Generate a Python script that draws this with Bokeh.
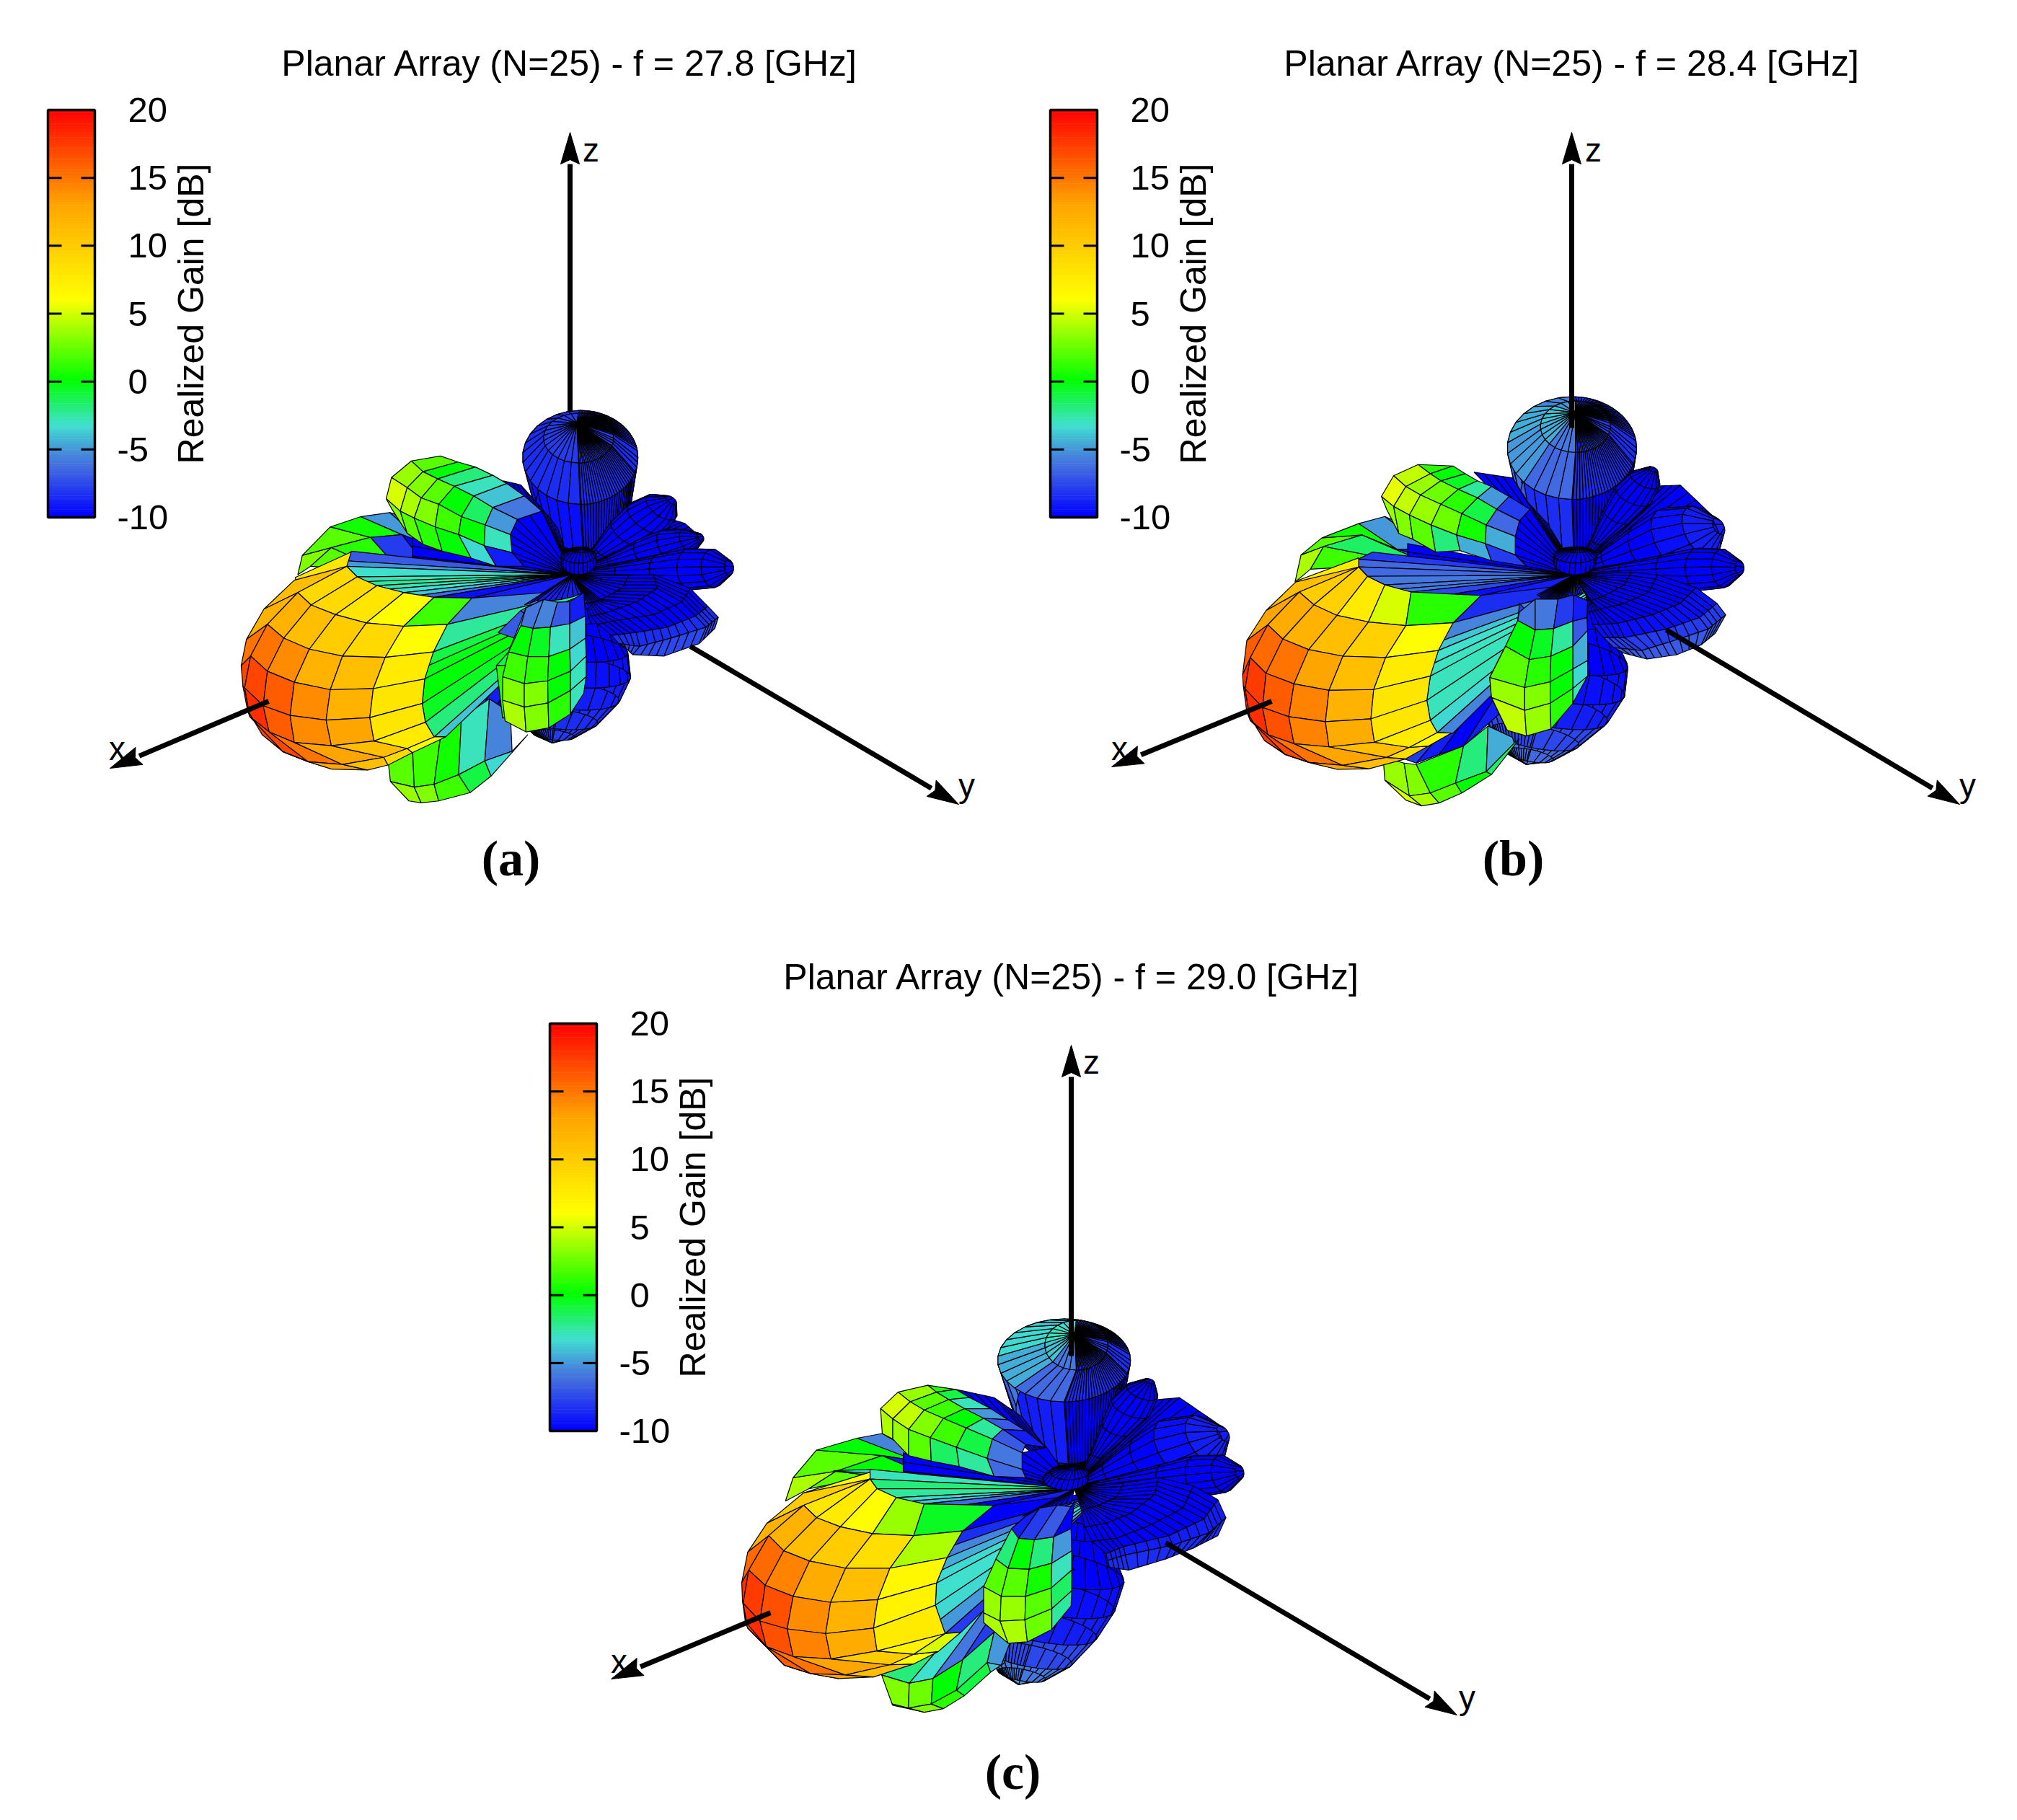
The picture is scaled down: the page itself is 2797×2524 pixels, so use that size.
import math
from bokeh.embed import file_html
from bokeh.resources import INLINE
from bokeh.plotting import figure
from bokeh.models import ColumnDataSource, LinearColorMapper
from bokeh.transform import transform
from bokeh.core.properties import value

# ------------------------- chart values -------------------------
titles = ["Planar Array (N=25) - f = 27.8 [GHz]", "Planar Array (N=25) - f = 28.4 [GHz]", "Planar Array (N=25) - f = 29.0 [GHz]"]
captions = ["(a)", "(b)", "(c)"]
gain_ticks = [20, 15, 10, 5, 0, -5, -10]
gain_label = "Realized Gain [dB]"
cmap_db = [-10, -6.5, -5.5, -3.3, 0, 6, 13, 20]
cmap_rgb = [(0, 0, 255), (65, 105, 225), (70, 135, 220), (64, 224, 208), (0, 255, 0), (255, 255, 0), (255, 165, 0), (255, 0, 0)]
dense_phi = list(range(0, 20, 6)) + list(range(20, 90, 3)) + list(range(90, 270, 12)) + list(range(270, 350, 3)) + [352, 360]
low_phi = list(range(0, 90, 4)) + list(range(90, 361, 15))
coarse_phi = list(range(0, 361, 15))
lobe_phi = list(range(0, 361, 24))

# view frames of the three panels: left, top, x scale, y scale
frame_a = (300, 540, 2.063, 2.613)
frame_b = (1680, 520, 2.063, 2.529)
frame_c = (1000, 1800, 2.063, 2.613)

# ---- panel a: surface
a_z = [(1015,670,0,0),(1048,420,135,165),(1040,245,165,170),(1035,175,100,90),(1030,120,0,0)]
a_z_db = [-10,-9.5,-8.5,-8]
a_rfan = [(1150,480),(1205,410),(1290,465),(1340,485),(1385,535),(1355,580),(1440,600),(1465,645),(1420,710),(1300,690)]
a_rfan_db = [-10,-10,-10,-10,-10,-10,-10,-10,-10]
a_r1 = ((1020,660),(1300,400),[0,.3,.55,.75,.9,1],[0,30,60,72,58,20],.5,[-10,-10,-10,-10,-10])
a_r2 = ((1020,660),(1385,535),[0,.3,.55,.75,.9,1],[0,22,50,62,45,15],.5,[-10,-10,-10,-10,-10])
a_r3 = ((1020,665),(1465,645),[0,.3,.55,.75,.9,1],[0,30,55,75,70,28],.5,[-10,-10,-10,-10,-10])
a_low = ((1040,700),(960,1280),[0,.2,.4,.55,.7,.85,.95,1],[0,100,170,190,170,120,60,0],.3,[-10,-10,-9.5,-9,-8.5,-8,-8])
a_r4 = [[(1015,675),(1015,675),(1015,675),(1015,675),(1015,675)],
        [(1180,672),(1160,720),(1100,760),(1080,770),(1060,775)],
        [(1250,670),(1260,720),(1200,770),(1110,810),(1070,820)],
        [(1355,720),(1330,770),(1250,815),(1150,835),(1090,850)],
        [(1405,785),(1370,820),(1290,860),(1200,880),(1130,890)],
        [(1435,825),(1400,860),(1300,900),(1210,930),(1150,920)],
        [(1425,865),(1380,920),(1280,965),(1190,960),(1165,930)]]
a_r4_db = [-10,-10,-10,-10,-8.5,-7.5]
a_back = [[(232,670),(245,600),(325,497),(412,460),(495,445),(560,470)],
          [(268,640),(328,572),(440,535),(530,525),(600,560),(650,590)],
          [(400,650),(450,640),(500,620),(600,640),(650,650),(700,655)]]
a_back_db = [[3,2,0.5,-5,-6],[2,1,-8,-10,-10]]
a_gap = [(560,530),(560,640)]
a_gap_db = [-10]
a_petal = [(820,330),(870,345),(930,430),(975,500),(1000,600)]
a_petal_db = [-10,-10,-10,-10]
a_up = [[(640,240),(690,262),(740,280),(790,310),(830,340),(880,385),(930,440)],
        [(557,258),(590,297),(632,323),(680,350),(735,385),(790,427),(860,470)],
        [(500,318),(545,355),(585,392),(635,415),(700,460),(768,490),(840,525)],
        [(485,395),(525,440),(565,465),(625,497),(692,525),(765,565),(845,590)],
        [(500,430),(545,520),(590,560),(645,585),(728,610),(800,640),(880,640)]]
a_up_db = [[2,0,-2,-3,-4,-6,-8],[3.5,3,2,0,-1.5,-5,-7],[5,4,3,1.5,0,-3,-7.5],[3,2,1,0,-3.5,-9,-10]]
a_up_fan = [(930,440),(860,470),(840,525),(845,590),(880,640)]
a_up_fan_db = [-10,-10,-10,-10]
a_lowg = [[(490,1340),(560,1290),(640,1260),(700,1190),(780,1120),(840,1170)],
          [(497,1420),(565,1440),(622,1430),(692,1395),(767,1345),(845,1310)],
          [(550,1490),(585,1497),(635,1490),(725,1460),(785,1400),(890,1250)]]
a_lowg_db = [[2,1.5,0.5,-3,-5.5],[3.5,3,1.5,-1,-3.5]]
a_lowg_fan = [(600,1290),(650,1265),(720,1220),(790,1170),(840,1200)]
a_lowg_fan_db = [-6,-7,-9,-10]
a_wedge = [(385,585),(370,620),(372,640),(402,678),(430,695),(458,710),(495,722),(535,735),(580,745),(622,752),(730,755),(880,790)]
a_wedge_db = [-7,-5,-3.3,-2.8,-2.5,-2.8,-3.2,-4,-6.5,-9.5,-9]
a_main = [[(222,690),(372,640),(402,678),(458,710),(535,735),(622,752),(730,755)],
          [(135,795),(232,735),(270,780),(340,815),(428,845),(535,857),(660,850)],
          [(85,905),(145,850),(192,900),(265,940),(360,965),(482,970),(620,950)],
          [(70,1000),(97,965),(145,1020),(222,1060),(325,1087),(448,1083),(595,1048)],
          [(75,1075),(80,1080),(133,1145),(210,1180),(313,1197),(438,1188),(588,1137)],
          [(88,1160),(95,1185),(150,1240),(222,1278),(328,1290),(450,1273),(597,1205)],
          [(130,1250),(190,1312),(262,1348),(360,1358),(478,1332),(545,1300),(622,1258)],
          [(190,1312),(262,1348),(330,1375),(432,1378),(490,1360),(560,1315),(655,1258)]]
a_main_db = [[11,9,9,8,6,1.5],[12,12,11,10,9,6],[15,15,14,12,11,7.5],[17,17,16,14,12,8],
             [18,18,16,14,13,8],[17,17,15,13,11,7.5],[15,15,13,11,9,6.5]]
a_strip = [[(225,680),(385,588)],[(232,735),(372,640)]]
a_strip_db = [[8]]
a_fan = [(730,755),(660,850),(620,950),(605,1000),(595,1048),(588,1137),(597,1205),(622,1258),(655,1258)]
a_fan_db = [-5.5,-2.5,-1,-0.3,0,-0.5,-2,-4]
a_fan_apex = (1100,720)
a_front = [[(885,790),(935,760),(975,770),(1010,768),(1050,735)],
           [(870,855),(905,865),(955,860),(1010,848),(1055,820)],
           [(835,950),(890,967),(950,967),(1010,940),(1055,900)],
           [(818,1040),(880,1065),(947,1055),(1012,1020),(1057,965)],
           [(818,1125),(880,1150),(948,1135),(1012,1090),(1057,1040)],
           [(825,1200),(885,1240),(950,1225),(1012,1175),(1050,1100)]]
a_front_db = [[-6,-5.5,-7,-9],[0,-0.5,-3,-4],[1.5,1,0,-3.5],[3,3,0,-3],[4,3,1,-3]]
a_flank = [(805,880),(870,800),(885,790),(835,950),(800,1000),(818,1190)]
a_flank_db = [-7,-6,-3,-1,1]
a_dome = [(1015,670,0,0),(1035,625,50,45),(1035,600,50,28),(1040,580,28,10),(1045,572,0,0)]
a_dome_db = [-10,-10,-10,-10]
a_cavity = [(880,780),(915,765),(950,765),(985,760),(1020,750),(1050,735)]
a_cavity_db = [-9,-9,-9,-9,-9]

# ---- panel b
b_z = [(1035,700,0,0),(1035,440,155,190),(1030,255,185,180),(1040,180,100,90),(1040,130,0,0)]
b_z_db = [-10,-8.5,-6.5,-6]
b_z_sec = [-2,-2,0,1.5,2,1,-2,-2]
b_rfan = [(1150,500),(1215,400),(1250,390),(1340,385),(1430,490),(1458,545),(1420,610),(1460,610),(1510,675),(1480,730),(1300,700)]
b_rfan_db = [-10,-10,-10,-10,-10,-10,-10,-10,-10,-10]
b_r1 = ((1035,690),(1262,330),[0,.3,.55,.75,.9,1],[0,20,45,58,48,15],.5,[-10,-10,-10,-10,-10])
b_r2 = ((1035,690),(1450,530),[0,.25,.5,.7,.88,1],[0,45,90,118,95,30],.5,[-10,-10,-10,-9.5,-9])
b_r3 = ((1035,695),(1510,675),[0,.3,.55,.75,.9,1],[0,30,55,75,68,25],.5,[-10,-10,-10,-10,-10])
b_low = ((1060,720),(900,1365),[0,.2,.4,.55,.7,.85,.95,1],[0,110,200,215,190,130,70,0],.3,[-10,-10,-9.5,-9,-7.5,-6.5,-6])
b_r4 = [[(1035,700),(1035,700),(1035,700),(1035,700),(1035,700)],
        [(1200,690),(1180,735),(1120,775),(1085,790),(1070,770)],
        [(1275,700),(1250,760),(1180,800),(1110,820),(1080,830)],
        [(1385,745),(1340,800),(1260,840),(1160,870),(1090,875)],
        [(1445,800),(1395,850),(1300,890),(1180,920),(1120,920)],
        [(1470,840),(1420,890),(1310,935),(1230,965),(1150,955)],
        [(1440,905),(1400,945),(1330,980),(1245,995),(1180,975)]]
b_r4_db = [-10,-10,-10,-9.5,-8,-7]
b_back = [[(238,725),(255,630),(315,570),(420,520),(495,495),(540,520)],
          [(282,680),(320,600),(430,560),(530,610),(620,610),(680,620)],
          [(420,670),(530,650),(600,650),(660,650),(700,660),(740,670)]]
b_back_db = [[4,2,0.5,-5,-6.5],[1.5,-1.5,-7,-9,-10]]
b_gap = [(560,590),(560,680)]
b_gap_db = [-10]
b_petal = [(750,340),(860,360),(900,440),(960,520),(1010,620)]
b_petal_db = [-10,-10,-10,-10]
b_up = [[(590,313),(690,318),(725,345),(760,370),(800,390),(850,425),(910,470)],
        [(590,313),(625,345),(655,370),(705,400),(760,430),(815,470),(880,510)],
        [(520,352),(555,390),(597,420),(655,452),(715,485),(785,525),(868,565)],
        [(485,425),(520,460),(565,490),(627,525),(700,560),(782,590),(868,630)],
        [(500,470),(535,555),(575,575),(640,620),(710,615),(800,650),(900,670)]]
b_up_db = [[1,0,-0.5,-2.5,-5,-8,-10],[4.5,3.5,2.5,1,-1,-6.5,-9],[5.5,4.5,3.5,2.5,0.5,-4.5,-8],[3.5,3,2,-2,-4.5,-8,-10]]
b_up_fan = [(910,470),(880,510),(868,565),(868,630),(900,670)]
b_up_fan_db = [-10,-10,-10,-10]
b_lowg = [[(490,1340),(550,1360),(585,1365),(720,1300),(790,1230),(860,1270)],
          [(495,1420),(565,1475),(625,1465),(697,1430),(785,1390),(865,1290)],
          [(555,1490),(600,1510),(650,1500),(715,1465),(800,1400),(880,1275)]]
b_lowg_db = [[3.5,3,1,-2,-4.5],[5,4,2,0,-1.5]]
b_lowg_fan = [(550,1345),(585,1360),(650,1330),(720,1300),(820,1190)]
b_lowg_fan_db = [-8,-9,-10,-9]
b_wedge = [(460,620),(418,645),(420,672),(445,705),(495,735),(530,750),(570,760),(665,772),(770,772),(900,800)]
b_wedge_db = [-8,-6.5,-6.5,-6,-6,-6,-7.5,-9.5,-9]
b_main = [[(240,725),(420,672),(420,672),(445,705),(495,735),(570,760),(770,772)],
          [(155,825),(250,760),(292,805),(358,842),(448,865),(555,878),(690,868)],
          [(100,930),(160,875),(203,925),(277,962),(375,985),(497,990),(648,965)],
          [(88,1050),(110,990),(155,1045),(235,1082),(335,1105),(463,1102),(625,1055)],
          [(90,1090),(95,1100),(145,1165),(220,1197),(325,1215),(455,1205),(615,1140)],
          [(100,1180),(110,1210),(160,1260),(235,1292),(335,1303),(465,1287),(625,1210)],
          [(150,1280),(210,1330),(278,1358),(375,1368),(500,1340),(565,1305),(645,1253)],
          [(210,1330),(278,1358),(360,1382),(450,1380),(555,1345),(620,1300),(685,1255)]]
b_main_db = [[11,10,9.5,7.5,5,1],[13,12.5,12,11,9.5,6],[16,15.5,15,13,11,7.5],[18,17.5,16,14.5,12,8],
             [18.5,18,16.5,14.5,12.5,8],[17.5,17,15,13,11,7.5],[15,15,13,11,8.5,6.5]]
b_strip = [[(240,722),(420,640)],[(250,760),(420,672)]]
b_strip_db = [[7.5]]
b_fan = [(770,772),(690,868),(660,930),(648,965),(635,1010),(625,1055),(615,1140),(625,1210),(645,1253),(690,1255)]
b_fan_db = [-8.5,-5.5,-4,-3.3,-3.1,-3,-3,-3.5,-5.5]
b_fan_apex = (1130,720)
b_front = [[(880,830),(925,785),(990,785),(1035,770),(1075,790)],
           [(875,860),(925,893),(978,888),(1033,862),(1073,850)],
           [(840,950),(908,997),(970,985),(1033,950),(1075,895)],
           [(795,1060),(895,1095),(968,1075),(1033,1030),(1075,1000)],
           [(800,1130),(895,1175),(968,1150),(1033,1098),(1075,1055)],
           [(845,1245),(900,1265),(970,1240),(1033,1150),(1050,1110)]]
b_front_db = [[-6,-6,-8,-9],[0,-0.5,-2.5,-7],[2,1,0,-4.5],[3.5,3,0,-3.5],[4.5,3.5,1,-3]]
b_flank = [(880,800),(875,860),(840,950),(795,1060),(800,1130),(845,1245)]
b_flank_db = [-8,-3,0,2,4]
b_dome = [(1035,700,0,0),(1038,655,60,45),(1040,630,62,28),(1045,612,32,10),(1050,603,0,0)]
b_dome_db = [-10,-10,-10,-10]
b_cavity = [(930,770),(950,785),(975,790),(1000,790),(1030,775),(1060,765)]
b_cavity_db = [-9,-9,-9,-9,-9]

# ---- panel c
c_z = [(1010,690,0,0),(992,410,150,190),(980,225,190,150),(1015,170,90,90),(1010,130,0,0)]
c_z_db = [-10,-8,-5.5,-5]
c_z_sec = [-3,-3,-1,1,2,1.5,-2,-3]
c_rfan = [(1130,500),(1175,420),(1225,370),(1310,360),(1420,455),(1438,495),(1400,565),(1460,590),(1482,630),(1445,700),(1300,690)]
c_rfan_db = [-10,-10,-10,-10,-10,-10,-10,-10,-10,-10]
c_r1 = ((1010,680),(1225,300),[0,.3,.55,.75,.9,1],[0,20,45,62,50,15],.5,[-10,-10,-10,-10,-10])
c_r2 = ((1010,680),(1435,490),[0,.25,.5,.7,.88,1],[0,45,90,118,95,30],.5,[-10,-10,-10,-9.5,-9])
c_r3 = ((1010,685),(1482,630),[0,.3,.55,.75,.9,1],[0,30,55,75,68,25],.5,[-10,-10,-10,-10,-10])
c_low = ((1030,700),(850,1400),[0,.2,.4,.55,.7,.85,.95,1],[0,110,200,200,175,130,70,0],.3,[-10,-10,-9.5,-9,-7.5,-6,-5])
c_r4 = [[(1010,690),(1010,690),(1010,690),(1010,690),(1010,690)],
        [(1150,670),(1130,720),(1080,750),(1050,760),(1030,770)],
        [(1250,650),(1240,710),(1170,780),(1100,815),(1040,830)],
        [(1350,680),(1320,760),(1230,820),(1130,870),(1060,880)],
        [(1420,730),(1380,800),(1280,860),(1150,900),(1100,925)],
        [(1443,795),(1395,850),(1290,895),(1155,930),(1105,950)],
        [(1420,860),(1350,905),(1270,945),(1165,985),(1110,975)]]
c_r4_db = [-10,-10,-10,-10,-9,-8.5]
c_back = [[(183,735),(205,650),(272,550),(388,507),(460,490),(520,510)],
          [(250,690),(327,627),(460,570),(560,590),(620,605),(680,620)],
          [(330,670),(480,650),(590,640),(640,640),(700,650),(760,660)]]
c_back_db = [[4,2,0,-5.5,-6.5],[2,0,-9,-10,-10]]
c_gap = [(520,560),(520,660)]
c_gap_db = [-10]
c_petal = [(670,330),(780,360),(860,430),(920,530),(970,610)]
c_petal_db = [-10,-10,-10,-10]
c_up = [[(590,315),(670,330),(710,360),(770,400),(820,440),(870,480),(930,540)],
        [(590,315),(615,340),(650,367),(695,400),(750,435),(805,475),(870,530)],
        [(505,340),(540,375),(580,405),(635,435),(700,470),(775,510),(860,560)],
        [(455,400),(490,437),(535,475),(597,505),(672,540),(760,580),(860,620)],
        [(460,490),(490,510),(535,570),(600,590),(680,610),(780,645),(870,650)]]
c_up_db = [[1,-1,-3,-5,-7,-9,-10],[3.5,2,1.5,0,-2.5,-7,-9],[5,4.5,3,1.5,-1,-6,-9],[4,3.5,2,-1.5,-2.5,-6.5,-10]]
c_up_fan = [(930,540),(860,560),(860,620),(870,650),(930,670)]
c_up_fan_db = [-10,-10,-10,-10]
c_lowg = [[(458,1365),(537,1395),(605,1378),(690,1310),(780,1210),(840,1200)],
          [(488,1470),(535,1485),(600,1470),(672,1420),(760,1320),(800,1330)],
          [(490,1475),(580,1500),(635,1487),(695,1440),(770,1355),(810,1320)]]
c_lowg_db = [[3,2.5,0,-2,-5],[3,3,1,-1,-4]]
c_lowg_fan = [(458,1365),(537,1395),(605,1378),(690,1310),(780,1210),(840,1200)]
c_lowg_fan_db = [-2,-3.3,-6,-8,-9]
c_wedge = [(320,625),(425,620),(425,655),(445,690),(500,722),(540,735),(580,745),(665,755),(780,750),(880,790)]
c_wedge_db = [-4,-3,-2,-2.5,-3.5,-4,-6.5,-10,-9]
c_main = [[(235,705),(425,655),(425,655),(445,690),(500,722),(580,745),(780,750)],
          [(130,815),(235,750),(272,795),(340,828),(432,853),(550,860),(690,843)],
          [(75,920),(135,860),(178,915),(252,952),(355,978),(482,978),(645,940)],
          [(58,1030),(78,985),(125,1040),(205,1080),(312,1102),(447,1092),(615,1032)],
          [(60,1095),(62,1105),(110,1170),(188,1198),(298,1215),(435,1195),(612,1112)],
          [(68,1170),(75,1195),(128,1262),(205,1298),(313,1307),(445,1278),(640,1215)],
          [(130,1265),(180,1330),(255,1360),(355,1365),(482,1328),(550,1290),(640,1215)],
          [(180,1330),(255,1360),(335,1378),(435,1372),(550,1325),(620,1280),(685,1210)]]
c_main_db = [[10,8,7.5,6,3.5,-0.5],[12,12,11,10,8.5,4],[15.5,15.5,14.5,12.5,11,6.5],[18,17.5,16.5,14,12,7],
             [18.5,18,16.5,14.5,12.5,7.5],[17,16,15,13,10,7],[15,14,13,11,6,5]]
c_strip = [[(235,705),(425,630)],[(235,750),(425,655)]]
c_strip_db = [[6]]
c_fan = [(780,750),(690,843),(665,895),(645,940),(630,985),(615,1032),(612,1112),(625,1165),(640,1215),(685,1210)]
c_fan_db = [-10,-8.5,-5.5,-4.5,-3.5,-3.2,-3.5,-5,-8]
c_fan_apex = (1100,700)
c_front = [[(870,790),(910,760),(960,750),(1000,755),(1010,735)],
           [(830,835),(850,870),(895,875),(950,865),(1000,835)],
           [(785,945),(820,978),(880,982),(945,960),(1002,915)],
           [(750,1045),(800,1080),(870,1080),(943,1050),(1002,985)],
           [(750,1140),(797,1170),(868,1165),(945,1125),(1002,1060)],
           [(750,1175),(820,1250),(875,1245),(945,1200),(1000,1115)]]
c_front_db = [[-9,-8,-7,-10],[-2,0,-2,-5],[2,2,0.5,-3],[3.5,3.5,2,-1.5],[4,4,2.5,-2.5]]
c_flank = [(870,790),(830,835),(785,945)]
c_flank_db = [-8,-3]
c_dome = [(1010,690,0,0),(985,655,65,40),(995,630,55,28),(1005,612,25,10),(1005,603,0,0)]
c_dome_db = [-10,-10,-10,-10]
c_cavity = [(860,790),(900,770),(950,755),(1000,740)]
c_cavity_db = [-10,-10,-10]

# axes: start and arrow tip in page pixels
a_axes = [((372,972),(152,1065)), ((957,896),(1329,1115)), ((790,570),(790,183))]
b_axes = [((1763,972),(1541,1063)), ((2310,873),(2717,1115)), ((2179,593),(2179,183))]
c_axes = [((1068,2236),(847,2328)), ((1616,2139),(2020,2378)), ((1485,1880),(1485,1449))]
a_axis_labels = [(162,1037),(1340,1088),(819,207)]
b_axis_labels = [(1552,1037),(2728,1088),(2209,207)]
c_axis_labels = [(858,2303),(2034,2353),(1513,1472)]
axis_names = ["x", "y", "z"]

# layout anchors in page pixels
bar_boxes = [(66,131,152,717),(1456,1521,152,717),(762,827,1419,1984)]
title_xy = [(790,87),(2180,87),(1486,1354)]
caption_xy = [(708,1190),(2098,1190),(1404,2457)]

# ------------------------- helpers -------------------------
def lerp_color(db):
    for i in range(len(cmap_db) - 1):
        if db <= cmap_db[i + 1]:
            t = (db - cmap_db[i]) / (cmap_db[i + 1] - cmap_db[i])
            c = [round(cmap_rgb[i][k] + t * (cmap_rgb[i + 1][k] - cmap_rgb[i][k])) for k in range(3)]
            return "#%02x%02x%02x" % tuple(c)
    return "#ff0000"

palette = [lerp_color(-10 + 30 * i / 299) for i in range(300)]
mapper = LinearColorMapper(palette=palette, low=-10, high=20)

p = figure(width=2781, height=2508, x_range=(0, 2781), y_range=(2508, 0), toolbar_location=None,
           output_backend="svg", min_border=0, outline_line_color=None)
p.xaxis.visible = False
p.yaxis.visible = False
p.grid.visible = False

def split(a, b, n):
    return [(a[0] + (b[0] - a[0]) * k / n, a[1] + (b[1] - a[1]) * k / n) for k in range(n)]

class Scene:
    def __init__(self, frame):
        self.f = frame
        self.xs, self.ys, self.db = [], [], []
    def pt(self, q):
        return (self.f[0] + q[0] / self.f[2], self.f[1] + q[1] / self.f[3])
    def add(self, pts, db):
        pts = [self.pt(q) for q in pts]
        self.xs.append([q[0] for q in pts])
        self.ys.append([q[1] for q in pts])
        self.db.append(db)
    def grid(self, g, db):
        for i in range(len(g) - 1):
            for j in range(len(g[0]) - 1):
                self.add([g[i][j], g[i][j + 1], g[i + 1][j + 1], g[i + 1][j]], db[i][j])
    def fan(self, boundary, apex, db, n=1):
        for j in range(len(boundary) - 1):
            pts = split(boundary[j], boundary[j + 1], n) + [boundary[j + 1]]
            for k in range(n):
                self.add([pts[k], pts[k + 1], apex], db[j])
    def arcs(self, g, db, n):
        fine = []
        for row in g:
            r = []
            for j in range(len(row) - 1):
                r += split(row[j], row[j + 1], n)
            fine.append(r + [row[-1]])
        self.grid(fine, [[d] * (len(fine[0]) - 1) for d in db])
    def rings(self, rings, db, phis, sec=None):
        for i in range(len(rings) - 1):
            c0, c1 = rings[i], rings[i + 1]
            for j in range(len(phis) - 1):
                f0, f1 = math.radians(phis[j]), math.radians(phis[j + 1])
                pts = [(c0[0] + c0[2] * math.cos(f0), c0[1] + c0[3] * math.sin(f0)),
                       (c0[0] + c0[2] * math.cos(f1), c0[1] + c0[3] * math.sin(f1)),
                       (c1[0] + c1[2] * math.cos(f1), c1[1] + c1[3] * math.sin(f1)),
                       (c1[0] + c1[2] * math.cos(f0), c1[1] + c1[3] * math.sin(f0))]
                extra = sec[min(7, int(phis[j] // 45))] if sec else 0
                self.add(pts, db[i] + extra)
    def lobe(self, spec, phis, reverse=False):
        base, tip, fr, wid, ratio, db = spec
        dx, dy = tip[0] - base[0], tip[1] - base[1]
        L = math.hypot(dx, dy)
        dx, dy = dx / L, dy / L
        nx, ny = -dy, dx
        order = range(len(fr) - 2, -1, -1) if reverse else range(len(fr) - 1)
        for i in order:
            use = phis
            if len(phis) > 30 and max(wid[i], wid[i + 1]) < 100:
                use = phis[::5] + [360]
            for j in range(len(use) - 1):
                f0, f1 = math.radians(use[j]), math.radians(use[j + 1])
                q = []
                for (k, f) in ((i, f0), (i, f1), (i + 1, f1), (i + 1, f0)):
                    cx = base[0] + (tip[0] - base[0]) * fr[k]
                    cy = base[1] + (tip[1] - base[1]) * fr[k]
                    w = wid[k]
                    q.append((cx + nx * w * math.cos(f) + dx * w * ratio * math.sin(f),
                              cy + ny * w * math.cos(f) + dy * w * ratio * math.sin(f)))
                self.add(q, db[i])
    def draw(self):
        src = ColumnDataSource(dict(xs=self.xs, ys=self.ys, db=self.db))
        p.patches("xs", "ys", source=src, fill_color=transform("db", mapper), line_color="black", line_width=1.2)

def panel(frame, o, z, zdb, zsec, rfan, rfandb, r1, r2, r3, low, r4, r4db, back, backdb, gap, gapdb, petal, petaldb, up, updb, upfan, upfandb,
          lowg, lowgdb, lfan, lfandb, wedge, wedgedb, main, maindb, strip, stripdb, fan, fandb, apex,
          front, frontdb, flank, flankdb, dome, domedb, cav, cavdb, cav_n):
    s = Scene(frame)
    s.rings(z, zdb, dense_phi, zsec)
    s.fan(rfan, o, rfandb, 4)
    s.lobe(r1, lobe_phi)
    s.lobe(r2, lobe_phi)
    s.lobe(r3, lobe_phi)
    s.lobe(low, low_phi, True)
    s.grid(back, backdb)
    s.fan(gap, o, gapdb, 3)
    s.fan(petal, o, petaldb, 4)
    s.fan(upfan, o, upfandb, 2)
    s.grid(up, updb)
    s.fan(lfan, o, lfandb)
    s.grid(lowg, lowgdb)
    s.fan(wedge, o, wedgedb)
    s.fan(fan, apex, fandb)
    s.grid(strip, stripdb)
    s.grid(main, maindb)
    s.fan(cav, o, cavdb, cav_n)
    s.fan(flank, (front[0][-1][0], front[0][-1][1] + 250), flankdb)
    s.arcs(r4, r4db, 4)
    s.grid(front, frontdb)
    s.rings(dome, domedb, coarse_phi)
    s.draw()

panel(frame_a, (1015,670), a_z, a_z_db, None, a_rfan, a_rfan_db, a_r1, a_r2, a_r3, a_low, a_r4, a_r4_db, a_back, a_back_db, a_gap, a_gap_db, a_petal, a_petal_db,
      a_up, a_up_db, a_up_fan, a_up_fan_db, a_lowg, a_lowg_db, a_lowg_fan, a_lowg_fan_db, a_wedge, a_wedge_db,
      a_main, a_main_db, a_strip, a_strip_db, a_fan, a_fan_db, a_fan_apex, a_front, a_front_db, a_flank, a_flank_db,
      a_dome, a_dome_db, a_cavity, a_cavity_db, 2)
panel(frame_b, (1035,700), b_z, b_z_db, b_z_sec, b_rfan, b_rfan_db, b_r1, b_r2, b_r3, b_low, b_r4, b_r4_db, b_back, b_back_db, b_gap, b_gap_db, b_petal, b_petal_db,
      b_up, b_up_db, b_up_fan, b_up_fan_db, b_lowg, b_lowg_db, b_lowg_fan, b_lowg_fan_db, b_wedge, b_wedge_db,
      b_main, b_main_db, b_strip, b_strip_db, b_fan, b_fan_db, b_fan_apex, b_front, b_front_db, b_flank, b_flank_db,
      b_dome, b_dome_db, b_cavity, b_cavity_db, 5)
panel(frame_c, (1010,690), c_z, c_z_db, c_z_sec, c_rfan, c_rfan_db, c_r1, c_r2, c_r3, c_low, c_r4, c_r4_db, c_back, c_back_db, c_gap, c_gap_db, c_petal, c_petal_db,
      c_up, c_up_db, c_up_fan, c_up_fan_db, c_lowg, c_lowg_db, c_lowg_fan, c_lowg_fan_db, c_wedge, c_wedge_db,
      c_main, c_main_db, c_strip, c_strip_db, c_fan, c_fan_db, c_fan_apex, c_front, c_front_db, c_flank, c_flank_db,
      c_dome, c_dome_db, c_cavity, c_cavity_db, 3)

# axes with arrow heads
for axes, labels in ((a_axes, a_axis_labels), (b_axes, b_axis_labels), (c_axes, c_axis_labels)):
    for (st, tip), lab, name in zip(axes, labels, axis_names):
        dx, dy = tip[0] - st[0], tip[1] - st[1]
        L = math.hypot(dx, dy)
        dx, dy = dx / L, dy / L
        back = (tip[0] - dx * 44, tip[1] - dy * 44)
        p.line([st[0], back[0]], [st[1], back[1]], line_color="black", line_width=7)
        p.patch([tip[0], back[0] - dy * 13, back[0] + dx * 6, back[0] + dy * 13],
                [tip[1], back[1] + dx * 13, back[1] + dy * 6, back[1] - dx * 13], color="black")
        p.text([lab[0]], [lab[1]], text=[name], text_font=value("Liberation Sans"), text_font_size="46px",
               text_align="center", text_baseline="middle", text_color="black")

# colour bars
n_slices = 150
for (x0, x1, y0, y1), tt, txy, cap, cxy in zip(bar_boxes, titles, title_xy, captions, caption_xy):
    h = (y1 - y0) / n_slices
    p.quad(left=[x0] * n_slices, right=[x1] * n_slices,
           top=[y0 + i * h for i in range(n_slices)], bottom=[y0 + (i + 1) * h + 0.5 for i in range(n_slices)],
           fill_color=[palette[int(299 * (1 - (i + .5) / n_slices))] for i in range(n_slices)], line_color=None)
    p.quad(left=[x0], right=[x1], top=[y0], bottom=[y1], fill_color=None, line_color="black", line_width=3.5)
    for t in gain_ticks:
        y = y0 + (20 - t) / 30 * (y1 - y0)
        if -10 < t < 20:
            p.multi_line([[x0, x0 + 19], [x1 - 19, x1]], [[y, y], [y, y]], line_color="black", line_width=3)
        p.text([x1 + (31 if t < 0 else 46)], [y], text=[str(t)],
               text_font=value("Liberation Sans"), text_font_size="49px", text_align="left", text_baseline="middle")
    p.text([x1 + 133], [(y0 + y1) / 2], text=[gain_label], angle=math.pi / 2, text_font=value("Liberation Sans"),
           text_font_size="50px", text_align="center", text_baseline="middle")
    p.text([txy[0]], [txy[1]], text=[tt], text_font=value("Liberation Sans"), text_font_size="50px",
           text_align="center", text_baseline="middle")
    p.text([cxy[0]], [cxy[1]], text=[cap], text_font=value("Liberation Serif"), text_font_size="70px",
           text_font_style="bold", text_align="center", text_baseline="middle")

open("out.html", "w").write(file_html(p, INLINE))
